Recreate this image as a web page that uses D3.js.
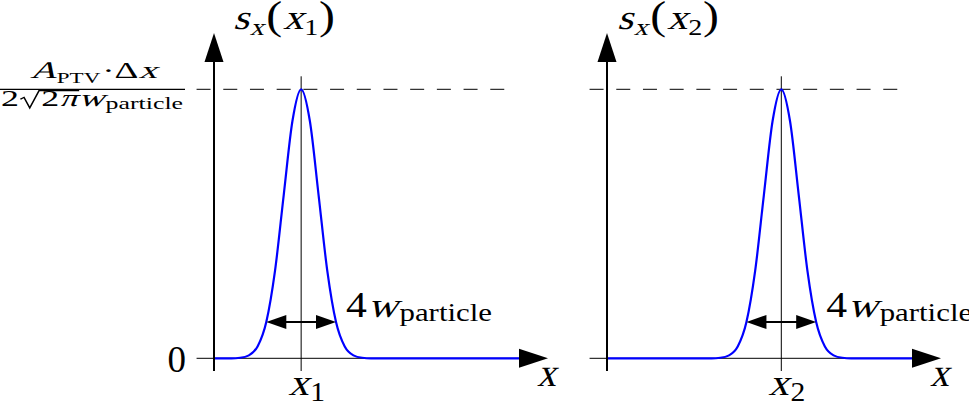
<!DOCTYPE html>
<html><head><meta charset="utf-8">
<script src="https://cdn.jsdelivr.net/npm/d3@7"></script>
<style>
body{margin:0;background:#fff} svg{display:block}
svg text{font-family:'Liberation Serif',serif;font-style:normal;}
</style>
</head><body>
<svg id="chart" width="969" height="403"></svg>
<script>
// ---------------- data ----------------
const panelIndex = ["1", "2"];            // subscripts of x_i
const peakPositions = [5, 10];            // peak location (units of w_particle) from the y-axis
const xExtent = [0, 17.5];                // plotted x-range (units of w_particle)
const profileOffsets = [-4, -3.5, -3, -2.5, -2, -1.5, -1, -0.5, 0, 0.5, 1, 1.5, 2, 2.5, 3, 3.5, 4];
const profileValues  = [0, 0.002, 0.011, 0.044, 0.135, 0.325, 0.607, 0.882, 1, 0.882, 0.607, 0.325, 0.135, 0.044, 0.011, 0.002, 0];
const widthMarker = [-2, 2];              // ±2 w  -> 4 w_particle
const markerLevel = 0.135;
const peakValue = 1;
const yTickValues = [0];
const yTickLabels = ["0"];

// ---------------- layout ----------------
const svg = d3.select("#chart");
const origins = [214, 607];
const pxPerUnit = 17.43;
const y = d3.scaleLinear().domain([0, 1]).range([358.3, 89.3]);

function mathText(parent, pieces, o) {
  const g = parent.append("g");
  const inner = g.append("g");
  let cx = 0; const marks = {};
  pieces.forEach(p => {
    if (p.mark) marks[p.mark] = cx;
    if (p.gap !== undefined) { cx += p.gap * o.size; return; }
    const fs = o.size * (p.s || 1);
    const t = inner.append("text")
      .attr("transform", `translate(${cx},${(p.dy || 0) * o.size})` + (p.i ? " skewX(-14)" : ""))
      .style("font-size", fs + "px")
      .attr("fill", "#000")
      .text(p.t);
    cx += t.node().getComputedTextLength() + (p.k || 0) * o.size;
    if (p.end) marks[p.end] = cx;
  });
  const sx = o.width ? o.width / cx : 1;
  g.attr("transform", `translate(${o.x},${o.y}) scale(${sx},1)`);
  return { g: inner, marks, width: cx };
}

function arrowHead(tip, dir, len, half) {
  const [dx, dy] = dir; const [px, py] = [-dy, dx];
  const bx = tip[0] - dx * len, by = tip[1] - dy * len;
  return `M${tip[0]},${tip[1]}L${bx + px * half},${by + py * half}L${bx - px * half},${by - py * half}Z`;
}

const profile = profileOffsets.map((o, i) => ({ o, v: profileValues[i] }));

peakPositions.forEach((c, pi) => {
  const x = d3.scaleLinear().domain(xExtent).range([origins[pi], origins[pi] + pxPerUnit * (xExtent[1] - xExtent[0])]);
  const g = svg.append("g");

  g.append("line")
    .attr("x1", x(-1)).attr("x2", x(17)).attr("y1", y(peakValue)).attr("y2", y(peakValue))
    .attr("stroke", "#000").attr("stroke-width", 1).attr("stroke-dasharray", "14,12.7");

  g.append("line")
    .attr("x1", x(-1)).attr("x2", x(xExtent[1])).attr("y1", y(0)).attr("y2", y(0))
    .attr("stroke", "#000").attr("stroke-width", 1);

  g.append("line")
    .attr("x1", x(c)).attr("x2", x(c)).attr("y1", y(peakValue) - 13).attr("y2", y(0) + 12.7)
    .attr("stroke", "#000").attr("stroke-width", 1);

  const pts = [{ px: xExtent[0], v: 0 }]
    .concat(profile.map(d => ({ px: c + d.o, v: d.v })))
    .concat([{ px: xExtent[1], v: 0 }]);
  g.append("path")
    .attr("d", d3.line().x(d => x(d.px)).y(d => y(d.v)).curve(d3.curveMonotoneX)(pts))
    .attr("fill", "none").attr("stroke", "#0000ff").attr("stroke-width", 2.2);

  g.append("line")
    .attr("x1", x(0)).attr("x2", x(0)).attr("y1", y(0) + 12.7).attr("y2", 60)
    .attr("stroke", "#000").attr("stroke-width", 2);
  g.append("path").attr("d", arrowHead([x(0), 33], [0, -1], 29, 9.5)).attr("fill", "#000");

  g.append("path").attr("d", arrowHead([x(xExtent[1]) + 29, y(0)], [1, 0], 29, 9.5)).attr("fill", "#000");

  const ay = y(markerLevel);
  const xa = x(c + widthMarker[0]), xb = x(c + widthMarker[1]);
  g.append("line").attr("x1", xa + 15).attr("x2", xb - 15).attr("y1", ay).attr("y2", ay)
    .attr("stroke", "#000").attr("stroke-width", 2);
  g.append("path").attr("d", arrowHead([xa, ay], [-1, 0], 20, 7)).attr("fill", "#000");
  g.append("path").attr("d", arrowHead([xb, ay], [1, 0], 20, 7)).attr("fill", "#000");

  const idx = panelIndex[pi];
  mathText(g, [
    { t: "s", i: 1, s: 1.05, k: 0.02 }, { t: "x", i: 1, s: 0.72, dy: 0.17, k: 0.06 },
    { t: "(", s: 1.22, k: 0.02 }, { t: "x", i: 1, s: 1.05, k: 0.02 }, { t: idx, s: 0.72, dy: 0.17, k: 0.02 }, { t: ")", s: 1.22 }
  ], { x: pi === 0 ? 233 : 617, y: 29, size: 33, width: 102 });

  mathText(g, [{ t: "x", i: 1, k: 0.04 }, { t: idx, s: 0.72, dy: 0.17 }],
    { x: x(c) - 13, y: 395, size: 37, width: 37 });

  mathText(g, [{ t: "x", i: 1 }], { x: x(xExtent[1]) + 18, y: 386, size: 40, width: 19 });

  mathText(g, [{ t: "4", k: 0.02 }, { t: "w", i: 1, k: 0.04 }, { t: "particle", s: 0.74, dy: 0.12 }],
    { x: xb + 10, y: 317, size: 35, width: 146 });

  if (pi === 0) {
    const ax = d3.axisLeft(y).tickValues(yTickValues).tickFormat((d, i) => yTickLabels[i])
      .tickSize(0).tickPadding(28);
    const ag = g.append("g").attr("transform", `translate(${x(0)},0)`).call(ax);
    ag.select(".domain").remove();
    ag.attr("font-family", null).attr("font-size", null);
    ag.selectAll("text").style("font-size", "37px").attr("fill", "#000").attr("dy", "0.36em");
  }
});

// fraction label on the left
const fr = svg.append("g");
fr.append("line").attr("x1", 0).attr("x2", 185).attr("y1", y(peakValue)).attr("y2", y(peakValue))
  .attr("stroke", "#000").attr("stroke-width", 1.2);
mathText(fr, [
  { t: "A", i: 1 }, { t: "PTV", s: 0.62, dy: 0.2, k: 0.05 }, { t: "·" }, { t: "Δ" }, { t: "x", i: 1 }
], { x: 30, y: 78, size: 24, width: 127 });
const den = mathText(fr, [
  { t: "2" }, { gap: 0.62, mark: "rs" }, { t: "2" }, { t: "π", i: 1, end: "re", k: 0.03 },
  { t: "w", i: 1, k: 0.03 }, { t: "particle", s: 0.72, dy: 0.14 }
], { x: 1, y: 106, size: 24, width: 182 });
const s = 24, rs = den.marks.rs, re = den.marks.re;
den.g.append("path")
  .attr("d", `M${rs + 0.04 * s},${-0.28 * s}L${rs + 0.14 * s},${-0.36 * s}L${rs + 0.3 * s},${0.08 * s}L${rs + 0.56 * s},${-0.64 * s}L${re + 0.02 * s},${-0.64 * s}`)
  .attr("fill", "none").attr("stroke", "#000").attr("stroke-width", 1.1);
</script>
</body></html>
